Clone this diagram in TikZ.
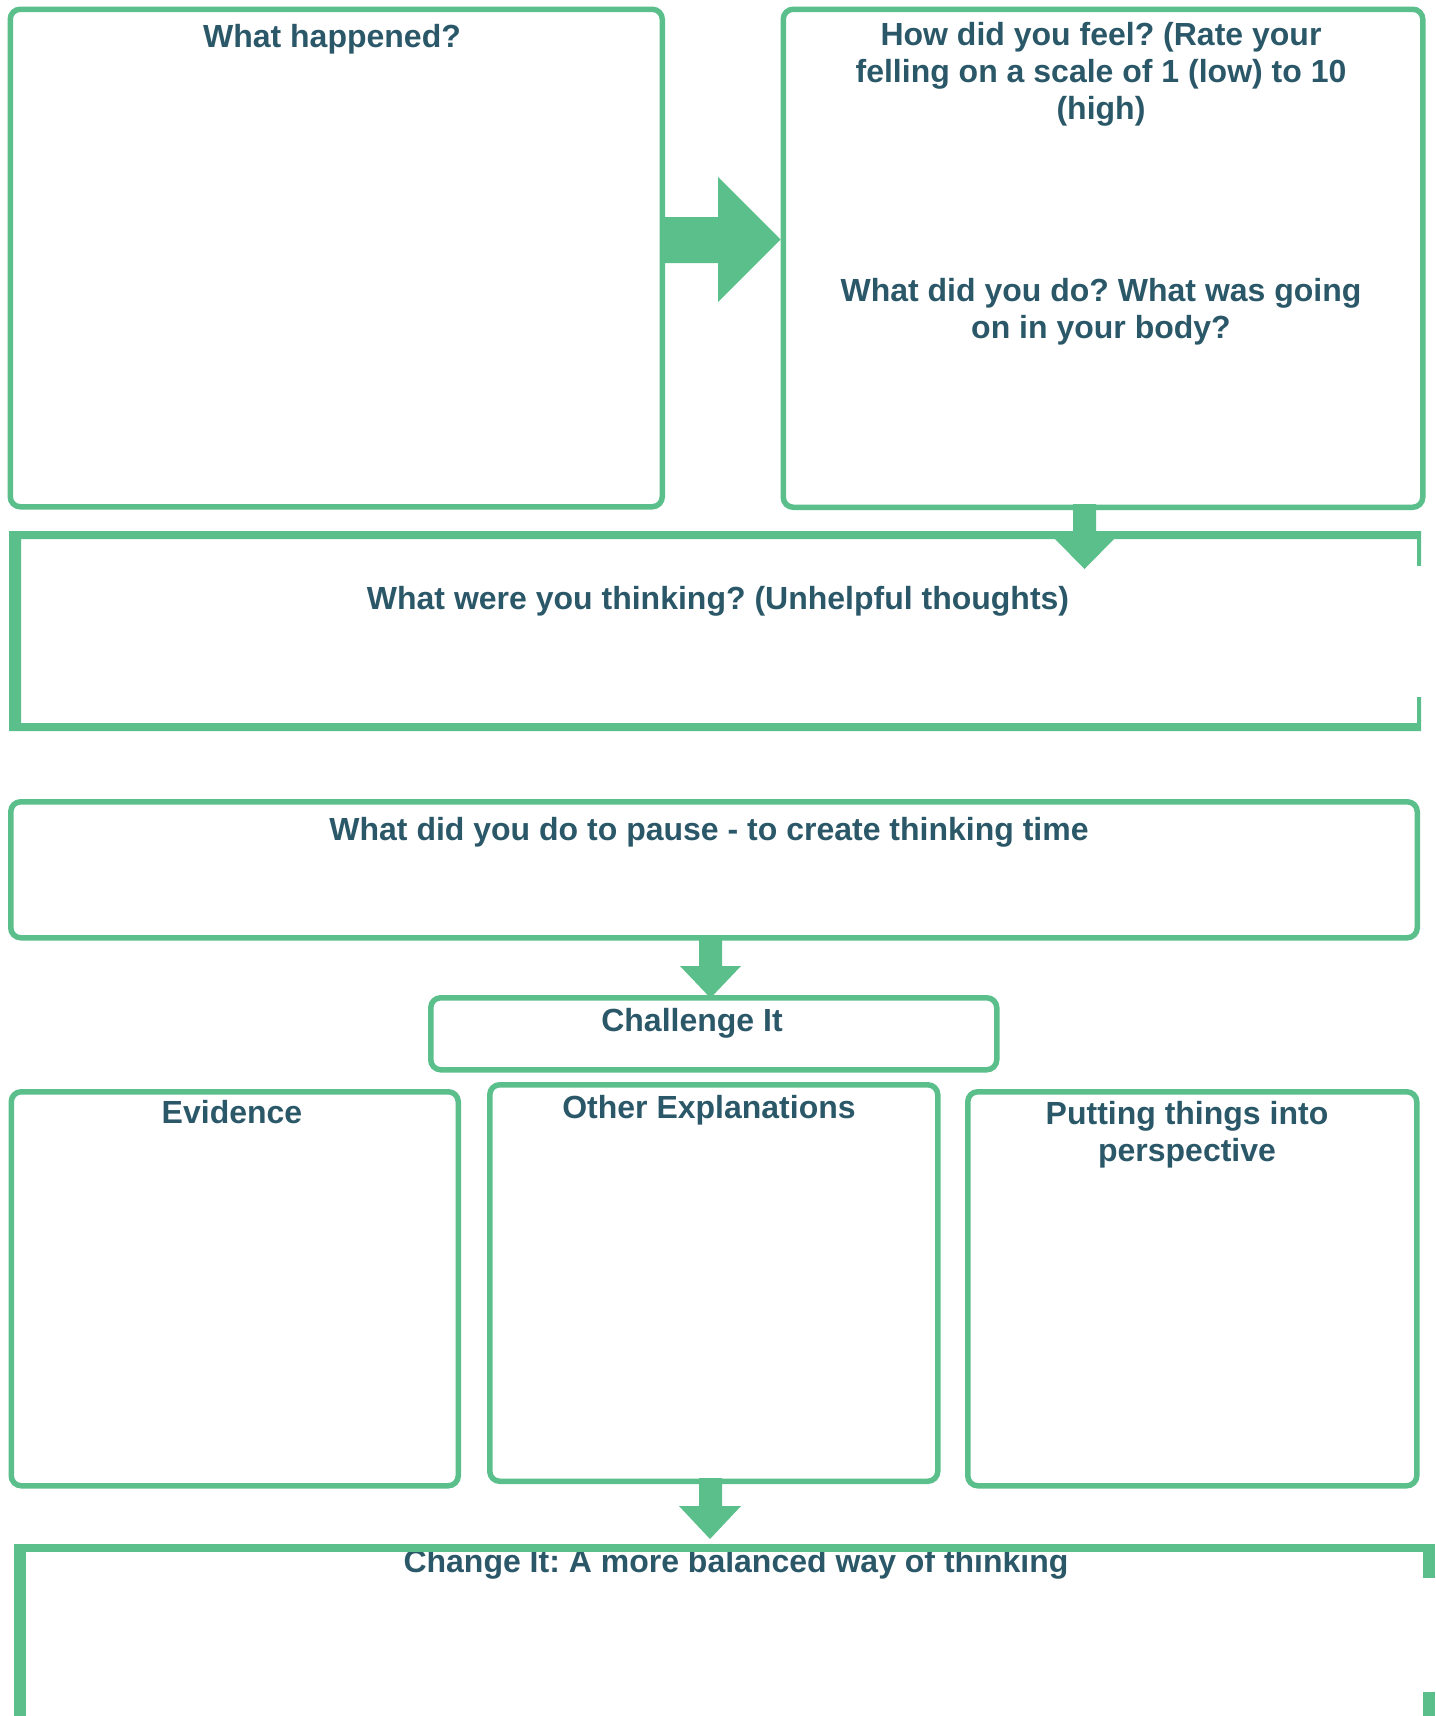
\documentclass[tikz,border=0pt]{standalone}
\usepackage{fontspec}
\setmainfont{Liberation Sans}
\definecolor{gr}{RGB}{91,191,139}
\definecolor{tc}{RGB}{43,88,104}
\tikzset{
  rbox/.style={draw=gr, line width=5.5pt, rounded corners=10pt, minimum width=#1, inner sep=0pt, anchor=north west},
  lbl/.style={text=tc, font=\frenchspacing\bfseries\fontsize{32}{37}\selectfont, inner sep=0pt, anchor=base, align=center},
  garrow/.style={fill=gr, draw=none},
  frame/.style={fill=gr, draw=none}
}
\begin{document}
\begin{tikzpicture}[x=1pt,y=-1pt]
\useasboundingbox (0,0) rectangle (1435,1716);
% top boxes
\node (hap) [rbox=652pt, minimum height=497.5pt] at (7.5,6.5) {};
\node (feel) [rbox=639.5pt, minimum height=498pt] at (780.5,6.5) {};
\node (hapt) [lbl] at (332,47) {What happened?};
\node (feelt) [lbl] at (1101,119) {How did you feel? (Rate your\\felling on a scale of 1 (low) to 10\\(high)};
\node (dot) [lbl] at (1101,338) {What did you do? What was going\\on in your body?};
% arrow hap -> feel
\fill[garrow] (hap.east |- 0,217) -- (718,217) -- (718,177) -- (feel.west |- 0,239.5) -- (718,302) -- (718,263) -- (hap.east |- 0,263) -- cycle;
% thinking frame
\coordinate (thinkNW) at (9,531);
\coordinate (thinkSE) at (1421,731);
\fill[frame, even odd rule] (thinkNW) rectangle (thinkSE) (21,539) rectangle (1417,723);
\fill[white] (1416,566) rectangle (1423,697);
\node (think) [lbl] at (718,609) {What were you thinking? (Unhelpful thoughts)};
% arrow feel -> thinking
\fill[garrow] (1073,504) -- (1096,504) -- (1096,539) -- (1114,539) -- (1084.5,569) -- (1055,539) -- (1073,539) -- cycle;
% pause
\node (pause) [rbox=1406.5pt, minimum height=136pt] at (8,799) {};
\node (pauset) [lbl] at (709,840) {What did you do to pause - to create thinking time};
% challenge
\node (chal) [rbox=566pt, minimum height=72pt] at (428,995) {};
\node (chalt) [lbl] at (692,1031) {Challenge It};
\fill[garrow] (699,937) -- (722,937) -- (722,966) -- (741,966) -- (710.5,998) -- (680,966) -- (699,966) -- cycle;
% three boxes
\node (evid) [rbox=447pt, minimum height=394pt] at (8.5,1089) {};
\node (other) [rbox=448pt, minimum height=396.5pt] at (487,1082) {};
\node (persp) [rbox=449pt, minimum height=394pt] at (965,1089) {};
\node (evidt) [lbl] at (232,1123) {Evidence};
\node (othert) [lbl] at (709,1118) {Other Explanations};
\node (perspt) [lbl] at (1187,1161) {Putting things into\\perspective};
% arrow other -> change
\fill[garrow] (699,1478) -- (722,1478) -- (722,1506) -- (741,1506) -- (710,1539) -- (679,1506) -- (699,1506) -- cycle;
% change box
\node (chg) [lbl] at (736,1572) {Change It: A more balanced way of thinking};
\fill[frame] (14,1544) rectangle (1435,1552);
\fill[frame] (14,1552) rectangle (26,1720);
\fill[frame] (1423,1552) rectangle (1435,1578);
\fill[frame] (1423,1692) rectangle (1435,1720);
\end{tikzpicture}
\end{document}
